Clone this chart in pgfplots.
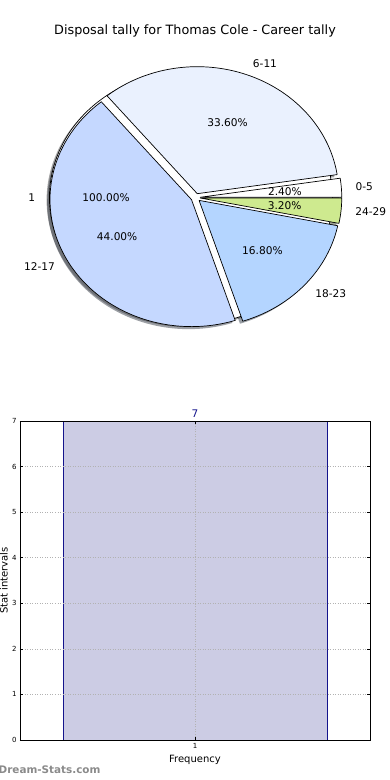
\documentclass[border=0pt]{standalone}
\usepackage{pgfplots}
\pgfplotsset{compat=1.18}
\usepackage{fontspec}
\setmainfont{DejaVu Sans}
\definecolor{cA}{RGB}{255,255,255}% 0-5
\definecolor{cB}{RGB}{234,241,254}% 6-11
\definecolor{cC}{RGB}{197,216,255}% 12-17
\definecolor{cD}{RGB}{180,213,255}% 18-23
\definecolor{cE}{RGB}{206,234,143}% 24-29
\definecolor{barfill}{RGB}{204,204,228}
\definecolor{barnavy}{RGB}{20,20,140}
\definecolor{wm}{RGB}{138,138,138}

% pie data (percent)
\def\pA{2.4}  % 0-5
\def\pB{33.6} % 6-11
\def\pC{44.0} % 12-17
\def\pD{16.8} % 18-23
\def\pE{3.2}  % 24-29
\def\pF{100}  % 1

% geometry (pixel units)
\def\cx{195.6}\def\cy{-197.6}\def\rx{141.5}\def\ry{127}\def\ex{0.033}

\newcommand\prepslice[4]{% #1 name, #2 start angle, #3 percent, #4 explode
  \pgfmathsetmacro\tmpS{#2}%
  \pgfmathsetmacro\tmpE{#2+3.6*#3}%
  \pgfmathsetmacro\tmpM{#2+1.8*#3}%
  \pgfmathsetmacro\tmpc{cos(\tmpM)}%
  \pgfmathsetmacro\tmps{sin(\tmpM)}%
  \pgfmathsetmacro\tmpOX{\cx+#4*\rx*\tmpc}%
  \pgfmathsetmacro\tmpOY{\cy+#4*\ry*\tmps}%
  \expandafter\xdef\csname s#1\endcsname{\tmpS}%
  \expandafter\xdef\csname e#1\endcsname{\tmpE}%
  \expandafter\xdef\csname ox#1\endcsname{\tmpOX}%
  \expandafter\xdef\csname oy#1\endcsname{\tmpOY}%
  \pgfmathsetmacro\tmp{\tmpOX+1.1*\rx*\tmpc}\expandafter\xdef\csname lx#1\endcsname{\tmp}%
  \pgfmathsetmacro\tmp{\tmpOY+1.1*\ry*\tmps}\expandafter\xdef\csname ly#1\endcsname{\tmp}%
  \pgfmathsetmacro\tmp{\tmpOX+0.6*\rx*\tmpc}\expandafter\xdef\csname px#1\endcsname{\tmp}%
  \pgfmathsetmacro\tmp{\tmpOY+0.6*\ry*\tmps}\expandafter\xdef\csname py#1\endcsname{\tmp}%
  \pgfmathsetmacro\tmp{\tmpOX-0.02*\rx}\expandafter\xdef\csname shx#1\endcsname{\tmp}%
  \pgfmathsetmacro\tmp{\tmpOY-0.02*\ry}\expandafter\xdef\csname shy#1\endcsname{\tmp}%
  \ifdim\tmpc pt>0pt \expandafter\xdef\csname an#1\endcsname{west}%
  \else \expandafter\xdef\csname an#1\endcsname{east}\fi
}
\prepslice{A}{0}{\pA}{\ex}
\prepslice{B}{\eA}{\pB}{\ex}
\prepslice{C}{\eB}{\pC}{\ex}
\prepslice{D}{\eC}{\pD}{\ex}
\prepslice{E}{\eD}{\pE}{\ex}
\prepslice{F}{0}{\pF}{\ex}

\newcommand\shadowslice[2]{%
  \addplot[draw=none, fill=#2!30!black, fill opacity=0.5, domain=\csname s#1\endcsname:\csname e#1\endcsname, samples=90, variable=\t]
   ({\csname shx#1\endcsname+\rx*cos(\t)},{\csname shy#1\endcsname+\ry*sin(\t)}) -- (axis cs:\csname shx#1\endcsname,\csname shy#1\endcsname) -- cycle;}
\newcommand\drawslice[2]{%
  \addplot[draw=black, line width=0.7pt, fill=#2, line join=round, domain=\csname s#1\endcsname:\csname e#1\endcsname, samples=90, variable=\t]
   ({\csname ox#1\endcsname+\rx*cos(\t)},{\csname oy#1\endcsname+\ry*sin(\t)}) -- (axis cs:\csname ox#1\endcsname,\csname oy#1\endcsname) -- cycle;}
\newcommand\labelslice[3]{%
  \node[lbl, anchor=\csname an#1\endcsname] at (axis cs:\csname lx#1\endcsname,\csname ly#1\endcsname) {#2};
  \node[lbl] at (axis cs:\csname px#1\endcsname,\csname py#1\endcsname) {#3};}

\tikzset{lbl/.style={font=\fontsize{10.6}{12}\selectfont, inner sep=0pt}}

\begin{document}
\begin{tikzpicture}
\path[use as bounding box] (0pt,0pt) rectangle (390pt,780pt);

% ---------- pie ----------
\begin{axis}[at={(0pt,390pt)}, anchor=south west, scale only axis, width=390pt, height=390pt,
  xmin=0, xmax=390, ymin=-390, ymax=0, hide axis, clip=false]
% shadows
\addplot[draw=none, fill=white!30!black, fill opacity=0.5, domain=0:360, samples=180, variable=\t]
  ({\shxF+\rx*cos(\t)},{\shyF+\ry*sin(\t)}) -- cycle;
\shadowslice{A}{cA}
\shadowslice{B}{cB}
\shadowslice{C}{cC}
\shadowslice{D}{cD}
\shadowslice{E}{cE}
% full pie "1"
\addplot[draw=black, line width=0.7pt, fill=white, domain=0:360, samples=180, variable=\t]
  ({\oxF+\rx*cos(\t)},{\oyF+\ry*sin(\t)}) -- cycle;
% slices
\drawslice{A}{cA}
\drawslice{B}{cB}
\drawslice{C}{cC}
\drawslice{D}{cD}
\drawslice{E}{cE}
% labels
\labelslice{F}{1}{100.00\%}
\labelslice{A}{0-5}{2.40\%}
\labelslice{B}{6-11}{33.60\%}
\labelslice{C}{12-17}{44.00\%}
\labelslice{D}{18-23}{16.80\%}
\labelslice{E}{24-29}{3.20\%}
\node[font=\fontsize{12.8}{15}\selectfont, anchor=base, inner sep=0pt] at (axis cs:195,-34.5) {Disposal tally for Thomas Cole - Career tally};
\end{axis}

% ---------- bar ----------
\begin{axis}[at={(20pt,40pt)}, anchor=south west, scale only axis, width=350pt, height=319pt,
  xmin=0.5, xmax=1.5, ymin=0, ymax=7, xtick={1}, ytick={0,1,...,7},
  ybar, bar width=0.754,
  axis on top, grid=major,
  grid style={gray!60, dash pattern=on 1pt off 1.5pt, line width=0.6pt},
  tick align=inside, major tick length=3pt, tick style={black, line width=0.5pt},
  axis line style={line width=0.8pt},
  /pgf/number format/assume math mode=true,
  tick label style={font=\fontsize{7}{8}\selectfont},
  xlabel={Frequency}, ylabel={Stat intervals},
  label style={font=\fontsize{10.5}{12}\selectfont},
  every axis x label/.style={at={(axis description cs:0.5,-0.0627)}, anchor=center},
  every axis y label/.style={at={(axis description cs:-0.0457,0.5)}, rotate=90, anchor=center},
  nodes near coords,
  every node near coord/.append style={font=\fontsize{10.5}{12}\selectfont, text=barnavy},
]
\addplot[fill=barfill, draw=barnavy, line width=0.8pt] coordinates {(1,7)};
\end{axis}

\node[anchor=west, font=\bfseries\fontsize{10.4}{12}\selectfont, text=wm, inner sep=0pt] at (-1.5pt,10pt) {Dream-Stats.com};
\end{tikzpicture}
\end{document}
